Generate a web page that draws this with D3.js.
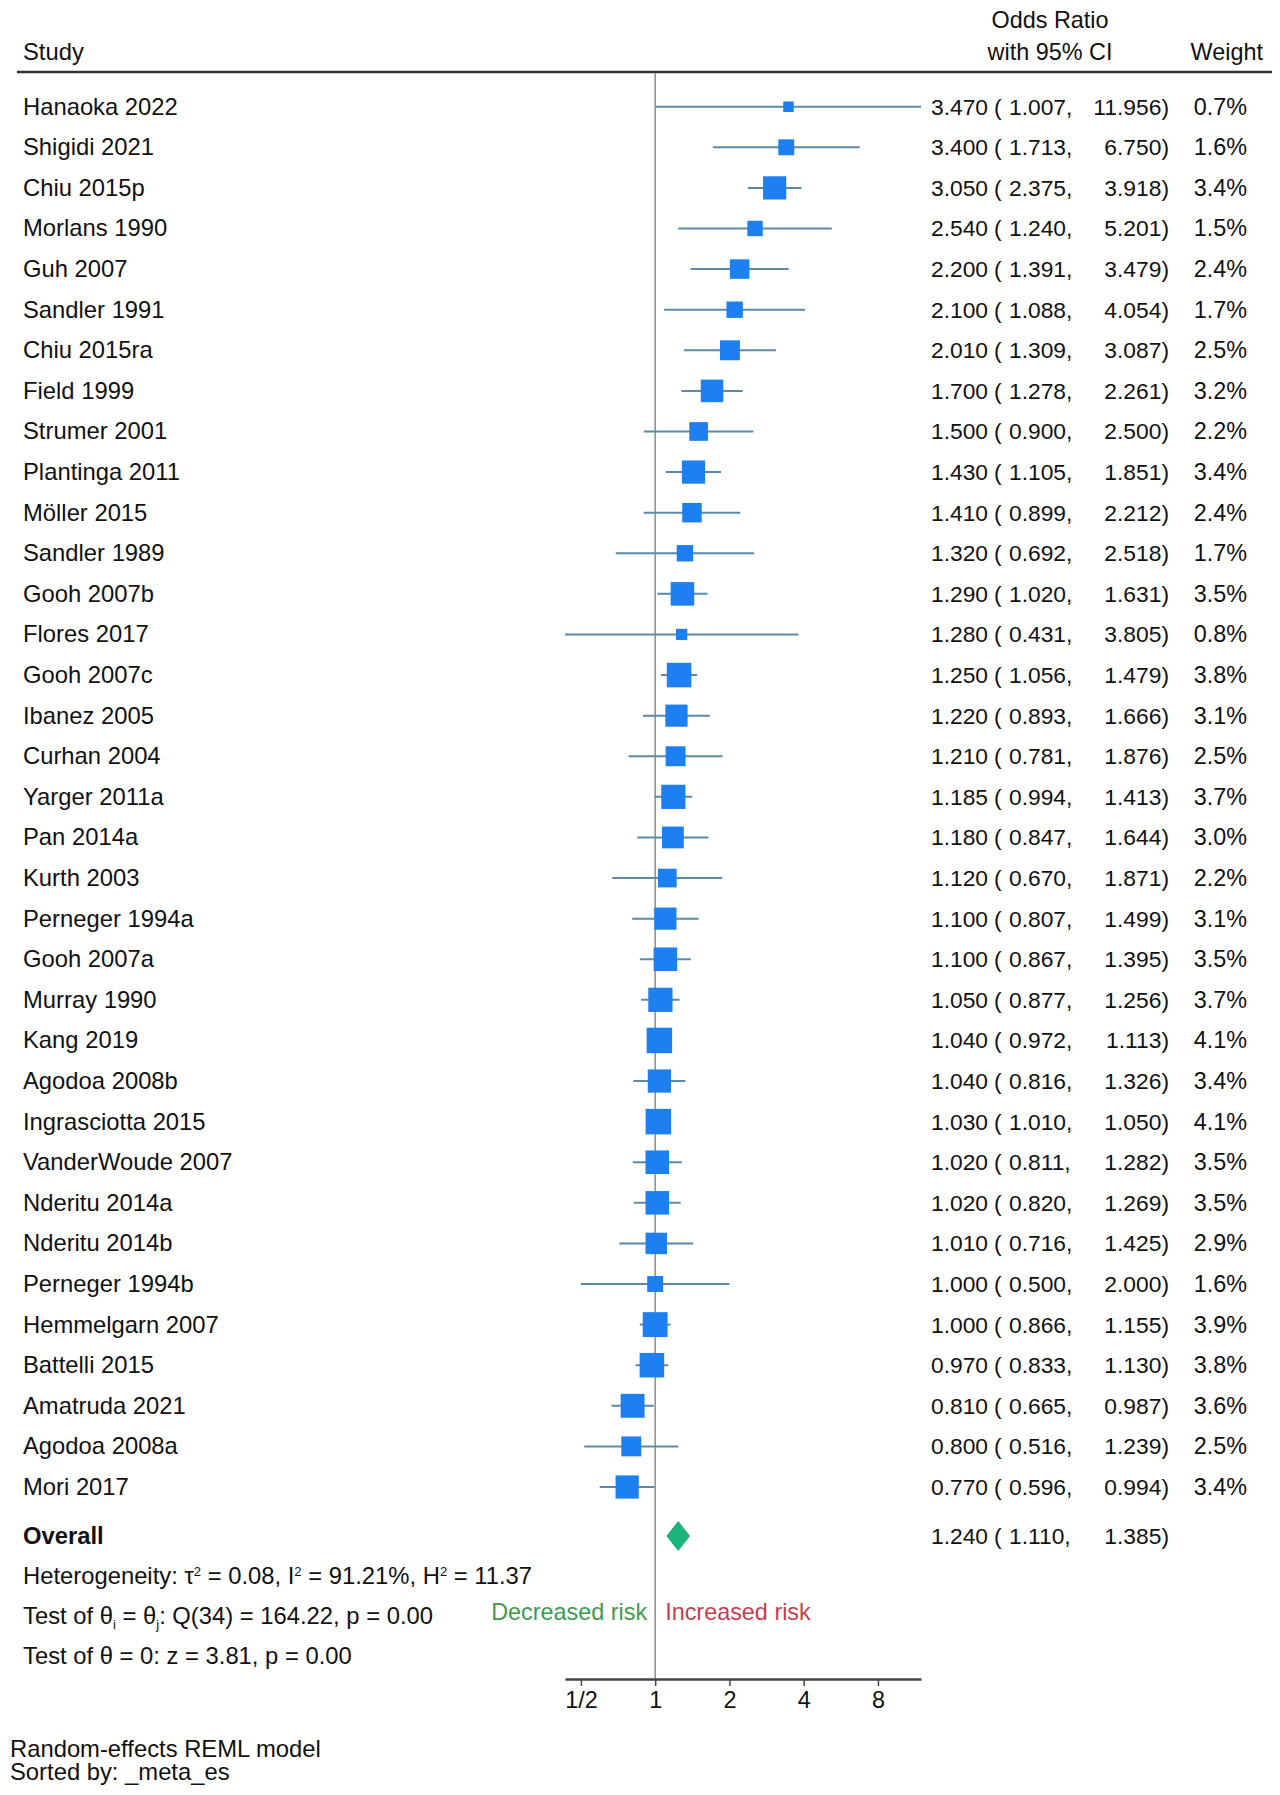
<!DOCTYPE html>
<html><head><meta charset="utf-8">
<script src="https://cdn.jsdelivr.net/npm/d3@7"></script>
<style>
html,body{margin:0;padding:0;background:#fff;}
svg text{font-family:"Liberation Sans",Arial,Helvetica,sans-serif;}
</style></head>
<body>
<svg id="chart" width="1280" height="1795"></svg>
<script>
const studies = ["Hanaoka 2022","Shigidi 2021","Chiu 2015p","Morlans 1990","Guh 2007","Sandler 1991","Chiu 2015ra","Field 1999","Strumer 2001","Plantinga 2011","Möller 2015","Sandler 1989","Gooh 2007b","Flores 2017","Gooh 2007c","Ibanez 2005","Curhan 2004","Yarger 2011a","Pan 2014a","Kurth 2003","Perneger 1994a","Gooh 2007a","Murray 1990","Kang 2019","Agodoa 2008b","Ingrasciotta 2015","VanderWoude 2007","Nderitu 2014a","Nderitu 2014b","Perneger 1994b","Hemmelgarn 2007","Battelli 2015","Amatruda 2021","Agodoa 2008a","Mori 2017"];
const oddsRatio = [3.470,3.400,3.050,2.540,2.200,2.100,2.010,1.700,1.500,1.430,1.410,1.320,1.290,1.280,1.250,1.220,1.210,1.185,1.180,1.120,1.100,1.100,1.050,1.040,1.040,1.030,1.020,1.020,1.010,1.000,1.000,0.970,0.810,0.800,0.770];
const ciLower = [1.007,1.713,2.375,1.240,1.391,1.088,1.309,1.278,0.900,1.105,0.899,0.692,1.020,0.431,1.056,0.893,0.781,0.994,0.847,0.670,0.807,0.867,0.877,0.972,0.816,1.010,0.811,0.820,0.716,0.500,0.866,0.833,0.665,0.516,0.596];
const ciUpper = [11.956,6.750,3.918,5.201,3.479,4.054,3.087,2.261,2.500,1.851,2.212,2.518,1.631,3.805,1.479,1.666,1.876,1.413,1.644,1.871,1.499,1.395,1.256,1.113,1.326,1.050,1.282,1.269,1.425,2.000,1.155,1.130,0.987,1.239,0.994];
const weights = [0.7,1.6,3.4,1.5,2.4,1.7,2.5,3.2,2.2,3.4,2.4,1.7,3.5,0.8,3.8,3.1,2.5,3.7,3.0,2.2,3.1,3.5,3.7,4.1,3.4,4.1,3.5,3.5,2.9,1.6,3.9,3.8,3.6,2.5,3.4];
const overall = {label:"Overall", or:1.240, lo:1.110, hi:1.385};
const tickValues = [0.5,1,2,4,8];
const tickLabels = ["1/2","1","2","4","8"];
const headerLabels = {study:"Study", or1:"Odds Ratio", or2:"with 95% CI", weight:"Weight"};
const statLines = [
  [{t:"Heterogeneity: τ"},{t:"2",sup:true},{t:" = 0.08, I"},{t:"2",sup:true},{t:" = 91.21%, H"},{t:"2",sup:true},{t:" = 11.37"}],
  [{t:"Test of θ"},{t:"i",sub:true},{t:" = θ"},{t:"j",sub:true},{t:": Q(34) = 164.22, p = 0.00"}],
  [{t:"Test of θ = 0: z = 3.81, p = 0.00"}]
];
const footnotes = ["Random-effects REML model","Sorted by: _meta_es"];
const riskLabels = ["Decreased risk","Increased risk"];

const FS = 23.4, FSL = 23.8, FSN = 22.8;
const svg = d3.select("#chart");
const fmt = d3.format(".3f");

const x = d3.scaleLog().base(2).domain([d3.min(ciLower), d3.max(ciUpper)]).range([565, 921]);
const y = d3.scalePoint().domain(d3.range(studies.length)).range([106.7, 1487]);
const boxSide = d3.scaleSqrt().domain([0, 1]).range([0, 12.6]);

const headerY = 72, axisY = 1679, overallY = 1536;
const colOR = 931, colParen = 994, colLo = 1009, colHi = 1169, colW = 1247;

// header
svg.append("text").attr("x",23).attr("y",60).attr("font-size",FSL).attr("fill","#111").text(headerLabels.study);
svg.append("text").attr("x",1050).attr("y",28).attr("text-anchor","middle").attr("font-size",FS).attr("fill","#111").text(headerLabels.or1);
svg.append("text").attr("x",1050).attr("y",60).attr("text-anchor","middle").attr("font-size",FS).attr("fill","#111").text(headerLabels.or2);
svg.append("text").attr("x",1263).attr("y",60).attr("text-anchor","end").attr("font-size",FS).attr("fill","#111").text(headerLabels.weight);
svg.append("line").attr("x1",17).attr("x2",1272).attr("y1",headerY).attr("y2",headerY).attr("stroke","#333").attr("stroke-width",2.5);

// reference line at 1
svg.append("line").attr("x1",x(1)).attr("x2",x(1)).attr("y1",headerY+1).attr("y2",axisY).attr("stroke","#8c8c8c").attr("stroke-width",1.5);

function numCols(g, yy, or, lo, hi) {
  g.append("text").attr("x",colOR).attr("y",yy).attr("font-size",FSN).attr("fill","#111").text(fmt(or));
  g.append("text").attr("x",colParen).attr("y",yy).attr("font-size",FSN).attr("fill","#111").text("(");
  g.append("text").attr("x",colLo).attr("y",yy).attr("font-size",FSN).attr("fill","#111").text(fmt(lo)+",");
  g.append("text").attr("x",colHi).attr("y",yy).attr("text-anchor","end").attr("font-size",FSN).attr("fill","#111").text(fmt(hi)+")");
}

// rows
const rows = svg.append("g").selectAll("g").data(studies).join("g");
rows.append("text").attr("x",23).attr("y",(d,i)=>y(i)+8).attr("font-size",FSL).attr("fill","#111").text(d=>d);
rows.append("line").attr("x1",(d,i)=>x(ciLower[i])).attr("x2",(d,i)=>x(ciUpper[i]))
  .attr("y1",(d,i)=>y(i)).attr("y2",(d,i)=>y(i)).attr("stroke","#5a8aa6").attr("stroke-width",2);
rows.append("rect")
  .attr("x",(d,i)=>x(oddsRatio[i])-boxSide(weights[i])/2)
  .attr("y",(d,i)=>y(i)-boxSide(weights[i])/2)
  .attr("width",(d,i)=>boxSide(weights[i]))
  .attr("height",(d,i)=>boxSide(weights[i]))
  .attr("fill","#1e80f0");
rows.each(function(d,i){ numCols(d3.select(this), y(i)+8, oddsRatio[i], ciLower[i], ciUpper[i]); });
rows.append("text").attr("x",colW).attr("y",(d,i)=>y(i)+8).attr("text-anchor","end").attr("font-size",FS).attr("fill","#111").text((d,i)=>weights[i].toFixed(1)+"%");

// overall
svg.append("text").attr("x",23).attr("y",overallY+8).attr("font-size",FSL).attr("font-weight","bold").attr("fill","#111").text(overall.label);
const dh = 15;
svg.append("path").attr("d",`M${x(overall.lo)},${overallY} L${x(overall.or)},${overallY-dh} L${x(overall.hi)},${overallY} L${x(overall.or)},${overallY+dh} Z`)
  .attr("fill","#1db37c");
numCols(svg.append("g"), overallY+8, overall.or, overall.lo, overall.hi);

// stats lines
statLines.forEach((segs,k)=>{
  const t = svg.append("text").attr("x",23).attr("y",overallY+40*(k+1)+8).attr("font-size",FSL).attr("fill","#111");
  let shift = 0;
  segs.forEach(s=>{
    const ts = t.append("tspan").text(s.t);
    let target = s.sup ? -8 : (s.sub ? 5 : 0);
    ts.attr("dy", target - shift);
    shift = target;
    if (s.sup || s.sub) ts.attr("font-size", FSL*0.55);
  });
});

// risk labels
svg.append("text").attr("x",x(1)-8).attr("y",1620).attr("text-anchor","end").attr("font-size",FS).attr("fill","#3d9a4f").text(riskLabels[0]);
svg.append("text").attr("x",x(1)+10).attr("y",1620).attr("font-size",FS).attr("fill","#c23f50").text(riskLabels[1]);

// axis
const axis = d3.axisBottom(x).tickValues(tickValues).tickFormat((d,i)=>tickLabels[i]).tickSize(7).tickPadding(5).tickSizeOuter(0);
const ag = svg.append("g").attr("transform",`translate(0,${axisY})`).call(axis);
ag.select(".domain").attr("stroke","#444").attr("stroke-width",2.5);
ag.selectAll(".tick line").attr("stroke","#444").attr("stroke-width",1.5);
ag.selectAll(".tick text").attr("font-size",FS).attr("fill","#111").attr("font-family","'Liberation Sans',Arial,sans-serif");

// footnotes
footnotes.forEach((f,k)=>{
  svg.append("text").attr("x",10).attr("y",1757+23*k).attr("font-size",FSL).attr("fill","#111").text(f);
});
</script>
</body></html>
